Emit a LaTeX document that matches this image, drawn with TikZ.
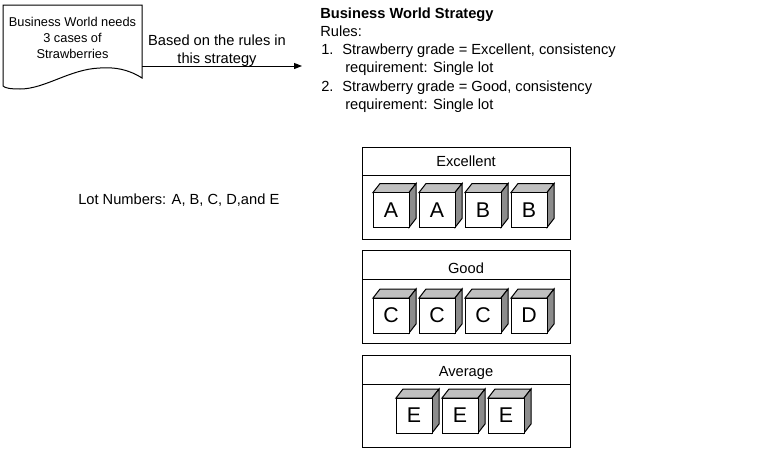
\documentclass[tikz,border=0pt]{standalone}
\usepackage{fontspec}
\setmainfont{Liberation Sans}
\usetikzlibrary{arrows.meta}
\definecolor{topgray}{HTML}{C0C0C0}
\definecolor{sidegray}{HTML}{8C8C8C}
\tikzset{
  px/.style={line width=0.75pt},
  txt/.style={inner sep=0pt,anchor=base west,font=\fontsize{11}{13}\selectfont},
  txtc/.style={inner sep=0pt,anchor=base,font=\fontsize{11}{13}\selectfont},
  doctxt/.style={inner sep=0pt,anchor=base,font=\fontsize{9.6}{11}\selectfont},
  gradebox/.style={draw,px,fill=white},
  cubefront/.style={draw,px,fill=white,minimum width=27pt,minimum height=26.25pt,inner sep=0pt,font=\fontsize{16}{16}\selectfont},
  topface/.style={draw,px,fill=topgray,line join=miter},
  sideface/.style={draw,px,fill=sidegray,line join=miter},
}
\newcommand\lotcube[4]{%
  \filldraw[topface] (#2,#3) -- ++(7,-9) -- ++(36,0) -- ++(-7,9) -- cycle;
  \filldraw[sideface] (#2+36,#3) -- ++(7,-9) -- ++(0,35) -- ++(-7,9) -- cycle;
  \node[cubefront] (#1) at (#2+18,#3+17.5) {#4};
}
\begin{document}
\begin{tikzpicture}[x=0.75pt,y=-0.75pt]
\useasboundingbox[fill=white] (0,0) rectangle (781,450);

% document shape
\draw[px,fill=white] (3,5) -- (142,5) -- (142,78)
  .. controls (128,69) and (114,67) .. (100,68)
  .. controls (70,69) and (45,89) .. (20,89)
  .. controls (10,89) and (5,88) .. (3,86) -- cycle;
\node[doctxt] (doc1) at (72.5,26.7) {Business World needs};
\node[doctxt] (doc2) at (72.5,42.7) {3 cases of};
\node[doctxt] (doc3) at (72.5,58.7) {Strawberries};

% arrow
\coordinate (docR) at (142,66);
\coordinate (arrEnd) at (302,66);
\draw[px,-{Triangle[length=6pt,width=4.5pt]}] (docR) -- (arrEnd);
\node[txtc] (lab1) at (217,45) {Based on the rules in};
\node[txtc] (lab2) at (217,63) {this strategy};

% strategy text
\node[txt,font=\fontsize{11}{13}\selectfont\bfseries] (title) at (320,18) {Business World Strategy};
\node[txt] (rules) at (320,36) {Rules:};
\node[txt] (n1) at (321,54) {1.};
\node[txt] (r1a) at (342,54) {Strawberry grade = Excellent, consistency};
\node[txt] (r1b) at (345,72.5) {requirement: Single lot};
\node[txt] (n2) at (321,91) {2.};
\node[txt] (r2a) at (342,91) {Strawberry grade = Good, consistency};
\node[txt] (r2b) at (345,109) {requirement: Single lot};

% lot numbers
\node[txt] (lots) at (78,204) {Lot Numbers: A, B, C, D,and E};

% Excellent
\draw[gradebox] (362,147) rectangle (570,239);
\draw[px] (362,175) -- (570,175);
\node[txtc] (exc) at (466,166.5) {Excellent};
\lotcube{e1}{373}{192.5}{A}
\lotcube{e2}{419}{192.5}{A}
\lotcube{e3}{465}{192.5}{B}
\lotcube{e4}{511}{192.5}{B}

% Good
\draw[gradebox] (362,250) rectangle (570,343);
\draw[px] (362,279) -- (570,279);
\node[txtc] (good) at (466,273) {Good};
\lotcube{g1}{373}{298}{C}
\lotcube{g2}{419}{298}{C}
\lotcube{g3}{465}{298}{C}
\lotcube{g4}{511}{298}{D}

% Average
\draw[gradebox] (362,355) rectangle (570,447);
\draw[px] (362,384) -- (570,384);
\node[txtc] (avg) at (466,376.5) {Average};
\lotcube{a1}{396}{398}{E}
\lotcube{a2}{442}{398}{E}
\lotcube{a3}{488}{398}{E}
\end{tikzpicture}
\end{document}
